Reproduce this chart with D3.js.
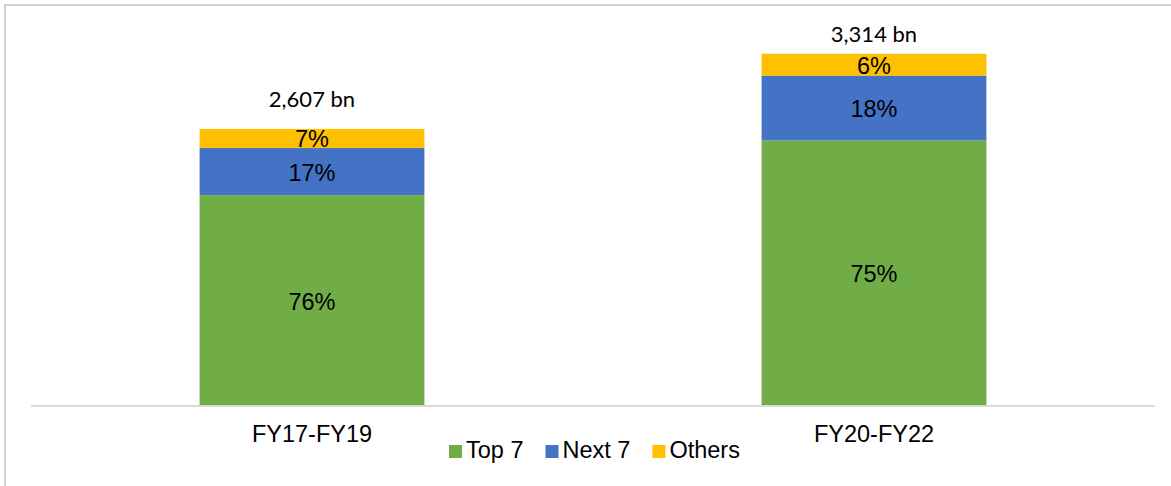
<!DOCTYPE html>
<meta charset="utf-8">
<head>
  <title>Top 7 / Next 7 / Others</title>
</head>
<body>
<style>
  html, body {
    margin: 0;
    padding: 0;
    background: #fff;
  }
  svg {
    display: block;
  }
  .pct, .cat, .legend text {
    font-family: "Liberation Sans", Arial, sans-serif;
    font-size: 23.5px;
    fill: #000;
  }
  .total {
    font-family: Lato, "Open Sans", sans-serif;
    font-size: 22px;
    fill: #000;
  }
  .axis-line {
    stroke: #d9d9d9;
    stroke-width: 2px;
  }
  .frame {
    fill: none;
    stroke: #c4c4c4;
    stroke-width: 1.5px;
  }
</style>
<div class="chart"></div>
<script src="https://cdn.jsdelivr.net/npm/d3@7"></script>
<script>

(function() {

// data (INR bn)
var periods = ["FY17-FY19", "FY20-FY22"];
var seriesNames = ["Top 7", "Next 7", "Others"];
var top7 = [1984, 2499];
var next7 = [443, 610];
var others = [180, 205];
var totals = [2607, 3314];
var colors = ["#70ad47", "#4472c4", "#ffc000"];

// the two total labels don't sit at the same height above their bars
var totalLabelGap = [22, 12];

var width = 1171,
    height = 486;

var svg = d3.select(".chart").append("svg")
    .attr("width", width)
    .attr("height", height);

svg.append("rect")
    .attr("class", "frame")
    .attr("x", 5)
    .attr("y", 5)
    .attr("width", width + 20)
    .attr("height", height + 20);

var x = d3.scaleBand()
    .domain(periods)
    .range([31, 1155])
    .paddingInner(0.6)
    .paddingOuter(0.3);

var y = d3.scaleLinear()
    .domain([0, 3500])
    .range([406, 34]);

var rows = periods.map(function(p, i) {
  return { period: p, "Top 7": top7[i], "Next 7": next7[i], "Others": others[i], total: totals[i] };
});

var stack = d3.stack().keys(seriesNames)(rows);

var layers = svg.append("g")
  .selectAll("g")
    .data(stack)
  .enter().append("g")
    .attr("fill", function(d, i) { return colors[i]; });

layers.selectAll("rect")
    .data(function(d) { return d; })
  .enter().append("rect")
    .attr("x", function(d) { return x(d.data.period); })
    .attr("width", x.bandwidth())
    .attr("y", function(d) { return y(d[1]); })
    .attr("height", function(d) { return y(d[0]) - y(d[1]); });

layers.selectAll("text")
    .data(function(d) { return d; })
  .enter().append("text")
    .attr("class", "pct")
    .attr("text-anchor", "middle")
    .attr("dominant-baseline", "central")
    .attr("x", function(d) { return x(d.data.period) + x.bandwidth() / 2; })
    .attr("y", function(d) { return (y(d[0]) + y(d[1])) / 2 + 1; })
    .text(function(d) { return Math.round((d[1] - d[0]) / d.data.total * 100) + "%"; });

// totals above bars
svg.append("g")
  .selectAll("text")
    .data(rows)
  .enter().append("text")
    .attr("class", "total")
    .attr("text-anchor", "middle")
    .attr("x", function(d) { return x(d.period) + x.bandwidth() / 2; })
    .attr("y", function(d, i) { return y(d.total) - totalLabelGap[i]; })
    .text(function(d) { return d3.format(",")(d.total) + " bn"; });

// category axis
svg.append("line")
    .attr("class", "axis-line")
    .attr("x1", 31)
    .attr("x2", 1155)
    .attr("y1", y(0))
    .attr("y2", y(0));

svg.append("g")
  .selectAll("text")
    .data(periods)
  .enter().append("text")
    .attr("class", "cat")
    .attr("text-anchor", "middle")
    .attr("x", function(d) { return x(d) + x.bandwidth() / 2; })
    .attr("y", 442)
    .text(function(d) { return d; });

// legend
var legend = svg.append("g")
    .attr("class", "legend")
    .attr("transform", "translate(449,458)");

var lx = 0;
seriesNames.forEach(function(name, i) {
  var item = legend.append("g").attr("transform", "translate(" + lx + ",0)");
  item.append("rect")
      .attr("x", 0)
      .attr("y", -13)
      .attr("width", 13)
      .attr("height", 13)
      .attr("fill", colors[i]);
  var t = item.append("text")
      .attr("x", 17)
      .attr("y", 0)
      .text(name);
  lx += 17 + t.node().getComputedTextLength() + 22;
});

})();

</script>
</body>
